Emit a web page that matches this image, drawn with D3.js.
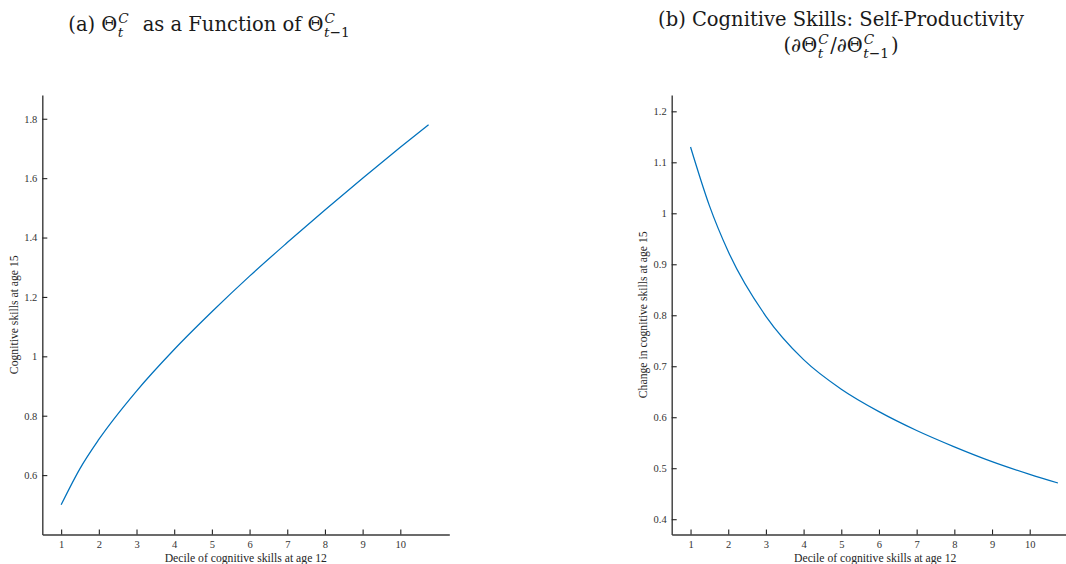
<!DOCTYPE html>
<html>
<head>
<meta charset="utf-8">
<script src="https://cdn.jsdelivr.net/npm/d3@7"></script>
<style>
  html, body { margin: 0; padding: 0; background: #fff; }
  svg { display: block; }
  .tick text { font-family: "Liberation Serif", "Times New Roman", serif; font-size: 10.5px; fill: #333; }
  .axis-label { font-family: "Liberation Serif", "Times New Roman", serif; font-size: 11.7px; fill: #262626; }
  .title text { font-family: "DejaVu Serif", "Liberation Serif", serif; fill: #1a1a1a; }
</style>
</head>
<body>
<svg id="chart" width="1066" height="564"></svg>
<script>
// Decile grid the two curves are evaluated on
const deciles = [1, 1.5, 2, 3, 4, 5, 6, 7, 8, 9, 10, 10.75];
// (a) cognitive skills at age 15
const skillsAge15 = [0.50, 0.622, 0.72, 0.883, 1.023, 1.150, 1.270, 1.383, 1.493, 1.600, 1.704, 1.78];
// (b) self-productivity of cognitive skills
const selfProductivity = [1.13, 1.015, 0.925, 0.798, 0.713, 0.655, 0.611, 0.574, 0.542, 0.513, 0.488, 0.471];

const xTicks = [1, 2, 3, 4, 5, 6, 7, 8, 9, 10];
const yTicksA = [0.6, 0.8, 1, 1.2, 1.4, 1.6, 1.8];
const yTicksB = [0.4, 0.5, 0.6, 0.7, 0.8, 0.9, 1, 1.1, 1.2];

const xLabel = "Decile of cognitive skills at age 12";
const yLabelA = "Cognitive skills at age 15";
const yLabelB = "Change in cognitive skills at age 15";

const svg = d3.select("#chart");
const lineColor = "#0072BD";
const axisColor = "#3a3a3a";

function panel(opts) {
  const g = svg.append("g");
  const x = d3.scaleLinear().domain([0.5, 11.3]).range([opts.left, opts.left + 407]);
  const y = d3.scaleLinear().domain(opts.yDomain).range([534.5, 95]);

  const xAxis = d3.axisBottom(x).tickValues(xTicks).tickSizeInner(-5).tickSizeOuter(0)
    .tickPadding(6.5).tickFormat(d3.format("d"));
  const yAxis = d3.axisLeft(y).tickValues(opts.yTicks).tickSizeInner(-5).tickSizeOuter(0)
    .tickPadding(5).tickFormat(d => String(+d.toFixed(2)));

  const gx = g.append("g").attr("transform", `translate(0,${y.range()[0]})`).call(xAxis);
  const gy = g.append("g").attr("transform", `translate(${opts.left},0)`).call(yAxis);
  [gx, gy].forEach(a => {
    a.select(".domain").attr("stroke", axisColor).attr("stroke-width", 1.4);
    a.selectAll(".tick line").attr("stroke", "#222").attr("stroke-width", 1.1);
  });

  const line = d3.line().x((d, i) => x(deciles[i])).y(d => y(d)).curve(d3.curveMonotoneX);
  g.append("path").datum(opts.values)
    .attr("fill", "none").attr("stroke", lineColor).attr("stroke-width", 1.25)
    .attr("d", line);

  g.append("text").attr("class", "axis-label")
    .attr("x", (x.range()[0] + x.range()[1]) / 2).attr("y", 562)
    .attr("text-anchor", "middle").text(xLabel);
  g.append("text").attr("class", "axis-label")
    .attr("transform", `translate(${opts.yLabelX},${(y.range()[0] + y.range()[1]) / 2}) rotate(-90)`)
    .attr("text-anchor", "middle").text(opts.yLabel);
}

panel({ left: 42.3, yDomain: [0.4, 1.88], yTicks: yTicksA, values: skillsAge15, yLabel: yLabelA, yLabelX: 17.5 });
panel({ left: 671.7, yDomain: [0.37, 1.232], yTicks: yTicksB, values: selfProductivity, yLabel: yLabelB, yLabelX: 646.5 });

// Title with math-style super/subscripts; each token is measured and laid out in turn
function mathTitle(cx, baseline, tokens, size) {
  const g = svg.append("g").attr("class", "title");
  let x = 0;
  const addRuns = (t, runs, fs) => {
    runs.forEach(r => t.append("tspan").style("font-style", r.it ? "italic" : "normal").text(r.t));
    t.style("font-size", fs + "px");
    return t.node().getComputedTextLength();
  };
  tokens.forEach(tk => {
    if (tk.sup || tk.sub) {
      let w = 0;
      if (tk.sup) w = Math.max(w, addRuns(g.append("text").attr("x", x + 1).attr("y", -size * 0.42), tk.sup, size * 0.7));
      if (tk.sub) w = Math.max(w, addRuns(g.append("text").attr("x", x + 0.5).attr("y", size * 0.3), tk.sub, size * 0.7));
      x += w + 2.5;
    } else {
      x += addRuns(g.append("text").attr("x", x).attr("y", 0), tk.runs, size);
    }
  });
  g.attr("transform", `translate(${cx - x / 2},${baseline})`);
}

const tA = [
  { runs: [{ t: "(a)\u00A0Θ" }] },
  { sup: [{ t: "C", it: true }], sub: [{ t: "t", it: true }] },
  { runs: [{ t: "\u00A0\u00A0as a Function of Θ" }] },
  { sup: [{ t: "C", it: true }], sub: [{ t: "t", it: true }, { t: "−1" }] }
];
mathTitle(210, 31, tA, 19.5);

mathTitle(841, 26, [{ runs: [{ t: "(b) Cognitive Skills: Self-Productivity" }] }], 19.5);
const tB2 = [
  { runs: [{ t: "(" }, { t: "∂", it: true }, { t: "Θ" }] },
  { sup: [{ t: "C", it: true }], sub: [{ t: "t", it: true }] },
  { runs: [{ t: "/" }, { t: "∂", it: true }, { t: "Θ" }] },
  { sup: [{ t: "C", it: true }], sub: [{ t: "t", it: true }, { t: "−1" }] },
  { runs: [{ t: ")" }] }
];
mathTitle(841, 52, tB2, 19.5);
</script>
</body>
</html>
